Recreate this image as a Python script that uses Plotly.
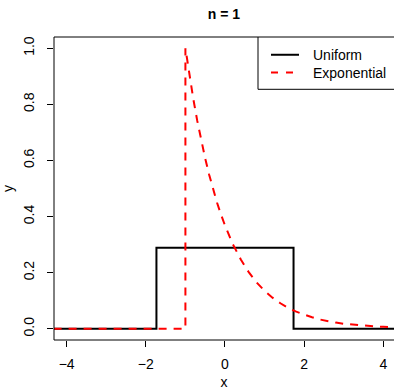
import plotly.graph_objects as go

# Data
uniform_x = [-4.33, -1.732, -1.732, 1.732, 1.732, 4.33]
uniform_y = [0.0, 0.0, 0.289, 0.289, 0.0, 0.0]

exp_x = [-4.33, -1.0, -1.0, -0.9, -0.8, -0.7, -0.6, -0.5, -0.4, -0.3, -0.2, -0.1,
         0.0, 0.2, 0.4, 0.6, 0.8, 1.0, 1.2, 1.4, 1.6, 1.8, 2.0, 2.2, 2.4, 2.6,
         2.8, 3.0, 3.2, 3.4, 3.6, 3.8, 4.0, 4.2, 4.4]
exp_y = [0.0, 0.0, 1.0, 0.905, 0.819, 0.741, 0.670, 0.607, 0.549, 0.497, 0.449, 0.407,
         0.368, 0.301, 0.247, 0.202, 0.165, 0.135, 0.111, 0.091, 0.074, 0.061, 0.050,
         0.041, 0.033, 0.027, 0.022, 0.018, 0.015, 0.012, 0.010, 0.008, 0.007, 0.006, 0.004]

x_ticks = [-4, -2, 0, 2, 4]
x_ticklabels = ["\u22124", "\u22122", "0", "2", "4"]
y_ticks = [0.0, 0.2, 0.4, 0.6, 0.8, 1.0]
y_ticklabels = ["0.0", "0.2", "0.4", "0.6", "0.8", "1.0"]

series_names = ["Uniform", "Exponential"]
title_text = "n = 1"

FONT = "Liberation Sans, Arial, Helvetica, sans-serif"

fig = go.Figure()
fig.add_trace(go.Scatter(x=uniform_x, y=uniform_y, mode="lines",
                         line=dict(color="black", width=2), name=series_names[0],
                         showlegend=False))
fig.add_trace(go.Scatter(x=exp_x, y=exp_y, mode="lines",
                         line=dict(color="#FF0000", width=2, dash="8px,7px"),
                         name=series_names[1], showlegend=False))

L, T, B = 54, 37, 46
W, H = 394, 390
pw = W - L
ph = H - T - B

def px(xp):
    return (xp - L) / pw

def py(yp):
    return (H - B - yp) / ph

shapes = [
    # plot box: left, top, bottom (right edge lies outside the window)
    dict(type="line", xref="paper", yref="paper", x0=0, x1=0, y0=0, y1=1,
         line=dict(color="black", width=1)),
    dict(type="line", xref="paper", yref="paper", x0=0, x1=1.02, y0=1, y1=1,
         line=dict(color="black", width=1)),
    dict(type="line", xref="paper", yref="paper", x0=0, x1=1.02, y0=0, y1=0,
         line=dict(color="black", width=1)),
    # legend box
    dict(type="line", xref="paper", yref="paper", x0=px(258), x1=px(258), y0=py(90), y1=1,
         line=dict(color="black", width=1)),
    dict(type="line", xref="paper", yref="paper", x0=px(258), x1=1.02, y0=py(90), y1=py(90),
         line=dict(color="black", width=1)),
    # legend samples
    dict(type="line", xref="paper", yref="paper", x0=px(271), x1=px(299), y0=py(55), y1=py(55),
         line=dict(color="black", width=2)),
    dict(type="line", xref="paper", yref="paper", x0=px(271), x1=px(299), y0=py(73), y1=py(73),
         line=dict(color="#FF0000", width=2, dash="7px,8px")),
]

annotations = [
    dict(text=series_names[0], xref="paper", yref="paper", x=px(311), y=py(55),
         xanchor="left", yanchor="middle", showarrow=False,
         font=dict(family=FONT, size=14, color="black")),
    dict(text=series_names[1], xref="paper", yref="paper", x=px(311), y=py(73),
         xanchor="left", yanchor="middle", showarrow=False,
         font=dict(family=FONT, size=14, color="black")),
]

fig.update_layout(
    width=W, height=H,
    margin=dict(l=L, r=0, t=T, b=B, pad=0),
    paper_bgcolor="white", plot_bgcolor="white",
    font=dict(family=FONT, size=14, color="black"),
    title=dict(text="<b>" + title_text + "</b>", x=(224) / W, xanchor="center",
               y=1 - 14 / H, yanchor="middle", font=dict(size=14)),
    shapes=shapes, annotations=annotations,
    showlegend=False,
)
fig.update_xaxes(range=[-4.32, 4.27], tickvals=x_ticks, ticktext=x_ticklabels,
                 showgrid=False, zeroline=False, showline=False,
                 ticks="outside", ticklen=6, tickcolor="black", tickwidth=1,
                 ticklabelstandoff=5,
                 title=dict(text="x", standoff=8, font=dict(size=14)))
fig.update_yaxes(range=[-0.04, 1.04], tickvals=y_ticks, ticktext=y_ticklabels,
                 showgrid=False, zeroline=False, showline=False,
                 ticks="outside", ticklen=6, tickcolor="black", tickwidth=1,
                 tickangle=-90, ticklabelstandoff=7,
                 title=dict(text="y", standoff=6, font=dict(size=14)))

fig.write_html("out.html", config={"displayModeBar": False},
               post_script="document.body.style.margin='0';document.body.style.overflow='hidden';")
